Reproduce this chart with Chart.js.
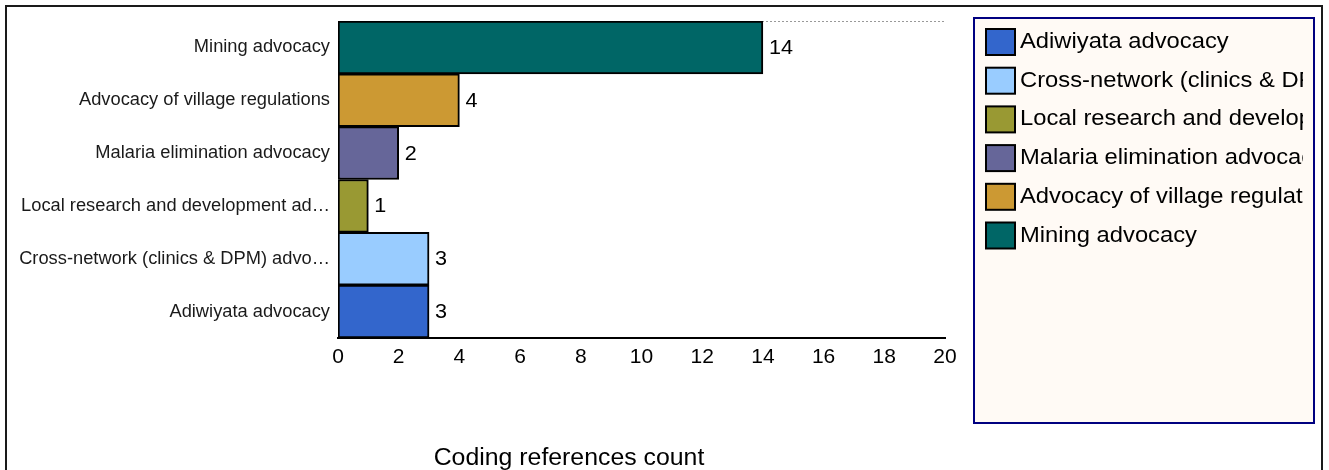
<!DOCTYPE html>
<html>
<head>
<meta charset="utf-8">
<script src="https://cdn.jsdelivr.net/npm/chart.js@4/dist/chart.umd.min.js"></script>
<style>
  body { margin: 0; background: #fff; }
  canvas { display: block; }
</style>
</head>
<body>
<canvas id="codingChart" width="1329" height="470"></canvas>
<script>
// categories, top to bottom as drawn
const categories = [
    'Mining advocacy',
    'Advocacy of village regulations',
    'Malaria elimination advocacy',
    'Local research and development advocacy',
    'Cross-network (clinics & DPM) advocacy',
    'Adiwiyata advocacy'
];
// y-axis labels as they appear (long ones cut)
const tickLabels = [
    'Mining advocacy',
    'Advocacy of village regulations',
    'Malaria elimination advocacy',
    'Local research and development ad\u2026',
    'Cross-network (clinics & DPM) advo\u2026',
    'Adiwiyata advocacy'
];
const counts = [14, 4, 2, 1, 3, 3];
const barColors = ['#006666', '#CC9933', '#666699', '#999933', '#99CCFF', '#3366CC'];
const xTicks = [0, 2, 4, 6, 8, 10, 12, 14, 16, 18, 20];
const axisTitle = 'Coding references count';

const FONT = '"Liberation Sans", Arial, sans-serif';
const STRETCH = 1.08; // source text is a bit wide


// draw text a little wider than the font gives
function wideText(ctx, text, x, y, align) {
    const w = ctx.measureText(text).width * STRETCH;
    let left = x;
    if (align === 'center') left = x - w / 2;
    ctx.save();
    ctx.textAlign = 'left';
    ctx.translate(left, y);
    ctx.scale(STRETCH, 1);
    ctx.fillText(text, 0, 0);
    ctx.restore();
}


/* =========================
   Extras: frame, dotted top line, value labels, legend, title
========================= */
const extrasPlugin = {
    id: 'extras',
    beforeDatasetsDraw(chart) {
        const { ctx, chartArea } = chart;
        ctx.save();
        ctx.strokeStyle = '#999';
        ctx.lineWidth = 1;
        ctx.setLineDash([2, 2]);
        ctx.beginPath();
        ctx.moveTo(chartArea.left, chartArea.top + 0.5);
        ctx.lineTo(chartArea.right, chartArea.top + 0.5);
        ctx.stroke();
        ctx.restore();
    },
    afterDraw(chart) {
        const ctx = chart.ctx;
        ctx.save();

        // outer frame
        ctx.strokeStyle = '#1a1a1a';
        ctx.lineWidth = 2;
        ctx.strokeRect(6, 6, 1316, 480);

        // value labels
        const meta = chart.getDatasetMeta(0);
        ctx.fillStyle = '#000';
        ctx.font = '20px ' + FONT;
        ctx.textBaseline = 'middle';
        meta.data.forEach((bar, i) => {
            wideText(ctx, String(counts[i]), bar.x + 6, bar.y + 1, 'left');
        });

        // legend box
        const lx = 974, ly = 18, lw = 340, lh = 405;
        ctx.fillStyle = '#FFFAF5';
        ctx.fillRect(lx, ly, lw, lh);
        ctx.strokeStyle = '#000080';
        ctx.lineWidth = 2;
        ctx.strokeRect(lx, ly, lw, lh);

        ctx.save();
        ctx.beginPath();
        ctx.rect(lx, ly, 1303 - lx, lh);
        ctx.clip();
        ctx.font = '22px ' + FONT;
        for (let k = 0; k < categories.length; k++) {
            const i = categories.length - 1 - k;
            const top = 29 + k * 38.7;
            ctx.fillStyle = barColors[i];
            ctx.fillRect(986, top, 29, 26);
            ctx.strokeStyle = '#000';
            ctx.lineWidth = 2;
            ctx.strokeRect(986, top, 29, 26);
            ctx.fillStyle = '#000';
            wideText(ctx, categories[i], 1020, top + 13, 'left');
        }
        ctx.restore();

        // axis title
        ctx.fillStyle = '#000';
        ctx.font = '23px ' + FONT;
        wideText(ctx, axisTitle, 569, 459, 'center');

        ctx.restore();
    }
};


/* =========================
   Bar chart
========================= */
const ctx = document.getElementById('codingChart').getContext('2d');

new Chart(ctx, {
    type: 'bar',
    data: {
        labels: tickLabels,
        datasets: [{
            data: counts,
            backgroundColor: barColors,
            borderColor: '#000',
            borderWidth: 2,
            borderSkipped: false,
            barPercentage: 1,
            categoryPercentage: 1
        }]
    },
    options: {
        indexAxis: 'y',
        responsive: false,
        devicePixelRatio: 1,
        animation: false,
        layout: {
            padding: { top: 21, right: 384, left: 0, bottom: 0 }
        },
        plugins: {
            legend: { display: false },
            tooltip: { enabled: false }
        },
        scales: {
            x: {
                min: 0,
                max: 20,
                afterBuildTicks(scale) {
                    scale.ticks = xTicks.map(v => ({ value: v }));
                },
                afterFit(scale) {
                    scale.height = 132;
                },
                grid: { display: false, drawTicks: false },
                border: { display: true, color: '#000', width: 2 },
                ticks: {
                    color: '#000',
                    padding: 7,
                    maxRotation: 0,
                    font: { family: FONT, size: 21 }
                }
            },
            y: {
                afterFit(scale) {
                    scale.width = 338;
                },
                grid: { display: false, drawTicks: false },
                border: { display: false },
                ticks: {
                    color: '#1a1a1a',
                    padding: 8,
                    autoSkip: false,
                    font: { family: FONT, size: 18.3 }
                }
            }
        }
    },
    plugins: [extrasPlugin]
});
</script>
</body>
</html>
